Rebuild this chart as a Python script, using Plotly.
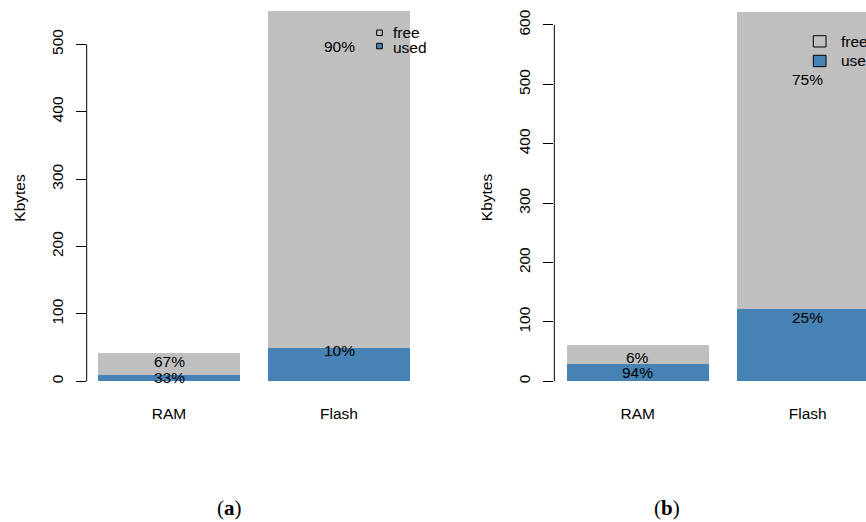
import plotly.graph_objects as go

# ---- data ----
categories = ["RAM", "Flash"]
a_used = [9.4, 49.4]
a_free = [32.6, 500.0]
b_used = [29.1, 121.7]
b_free = [32.0, 500.5]
a_pct_used = ["33%", "10%"]
a_pct_free = ["67%", "90%"]
b_pct_used = ["94%", "25%"]
b_pct_free = ["6%", "75%"]
a_ticks = [0, 100, 200, 300, 400, 500]
b_ticks = [0, 100, 200, 300, 400, 500, 600]
legend_labels = ["free", "used"]

W, H = 866, 522
GREY = "#BFBFBF"
BLUE = "#4682B4"
FONT = "Liberation Sans, Arial, Helvetica, sans-serif"
FS = 15.5


def px(x):
    return x / W


def py(y):
    return 1 - y / H


fig = go.Figure()
for xa, ya, used, free in (("x", "y", a_used, a_free), ("x2", "y2", b_used, b_free)):
    fig.add_trace(go.Bar(x=categories, y=used, marker=dict(color=BLUE, line=dict(width=0)),
                         xaxis=xa, yaxis=ya, showlegend=False, hoverinfo="skip"))
    fig.add_trace(go.Bar(x=categories, y=free, marker=dict(color=GREY, line=dict(width=0)),
                         xaxis=xa, yaxis=ya, showlegend=False, hoverinfo="skip"))

annotations = []
# percentage labels
for xr, yr, used, free, pu, pf, sh_u, sh_f in (
    ("x", "y", a_used, a_free, a_pct_used, a_pct_free, -2.5, -2.5),
    ("x2", "y2", b_used, b_free, b_pct_used, b_pct_free, -8.6, 5.0),
):
    for c, u, f, tu, tf in zip(categories, used, free, pu, pf):
        annotations.append(dict(x=c, y=u, xref=xr, yref=yr, text=tu, showarrow=False,
                                yshift=sh_u, font=dict(family=FONT, size=FS, color="black")))
        annotations.append(dict(x=c, y=f, xref=xr, yref=yr, text=tf, showarrow=False,
                                yshift=sh_f, font=dict(family=FONT, size=FS, color="black")))

# y axis titles
for xpix in (19.2, 486.7):
    annotations.append(dict(x=px(xpix), y=py(197.5), xref="paper", yref="paper", text="Kbytes",
                            textangle=-90, showarrow=False, xanchor="center", yanchor="middle",
                            font=dict(family=FONT, size=FS, color="black")))

# captions
for xpix, lab in ((229.3, "a"), (666.7, "b")):
    annotations.append(dict(x=px(xpix), y=py(508), xref="paper", yref="paper",
                            text="(<b>%s</b>)" % lab, showarrow=False, xanchor="center",
                            yanchor="middle",
                            font=dict(family="Liberation Serif, Times New Roman, serif", size=21,
                                      color="black")))

shapes = []
# axis lines spanning only the tick range
shapes.append(dict(type="line", xref="x domain", yref="y", x0=0, x1=0, y0=a_ticks[0], y1=a_ticks[-1],
                   line=dict(color="black", width=1)))
shapes.append(dict(type="line", xref="x2 domain", yref="y2", x0=0, x1=0, y0=b_ticks[0], y1=b_ticks[-1],
                   line=dict(color="black", width=1)))

# legends (drawn manually)
legend_specs = [
    # square x0, x1, rows (y0, y1), text x, text centers
    (376.7, 382.3, [(30.0, 35.5), (43.3, 48.8)], 390.5, [33.0, 47.5]),
    (813.3, 826.0, [(35.7, 47.0), (55.3, 66.7)], 838.5, [41.5, 61.0]),
]
for sx0, sx1, rows, tx, tys in legend_specs:
    for (y0, y1), ty, lab, col in zip(rows, tys, legend_labels, [GREY, BLUE]):
        shapes.append(dict(type="rect", xref="paper", yref="paper", x0=px(sx0), x1=px(sx1),
                           y0=py(y1), y1=py(y0), fillcolor=col, line=dict(color="black", width=1)))
        annotations.append(dict(x=px(tx), y=py(ty), xref="paper", yref="paper", text=lab,
                                showarrow=False, xanchor="left", yanchor="middle",
                                font=dict(family=FONT, size=FS, color="black")))

ydom = [py(396), 1.0]
common_x = dict(type="category", showgrid=False, zeroline=False, showline=False, ticks="",
                tickfont=dict(family=FONT, size=FS, color="black"), ticklabelstandoff=6,
                fixedrange=True)
common_y = dict(showgrid=False, zeroline=False, showline=False, ticks="outside", ticklen=10,
                tickwidth=1, tickcolor="black", tickangle=-90, ticklabelstandoff=7,
                tickfont=dict(family=FONT, size=FS, color="black"), fixedrange=True)

fig.update_layout(
    width=W, height=H, autosize=False,
    margin=dict(l=0, r=0, t=0, b=0),
    paper_bgcolor="white", plot_bgcolor="white",
    barmode="stack", bargap=0.165,
    showlegend=False,
    xaxis=dict(domain=[px(86.7), px(440)], range=[(86.7 - 169) / 170, (440 - 169) / 170], **common_x),
    xaxis2=dict(domain=[px(554.3), 1.0], range=[(554.3 - 637.7) / 170, (866 - 637.7) / 170],
                **common_x),
    yaxis=dict(domain=ydom, range=[-(396 - 381.3) / 0.674, 381.3 / 0.674], tickvals=a_ticks,
               anchor="x", **common_y),
    yaxis2=dict(domain=ydom, range=[-(396 - 381.3) / 0.594, 381.3 / 0.594], tickvals=b_ticks,
                anchor="x2", **common_y),
    annotations=annotations,
    shapes=shapes,
)

fig.write_html(
    "out.html",
    config={"displayModeBar": False, "staticPlot": True},
    post_script="document.body.style.margin='0';document.body.style.overflow='hidden';",
)
